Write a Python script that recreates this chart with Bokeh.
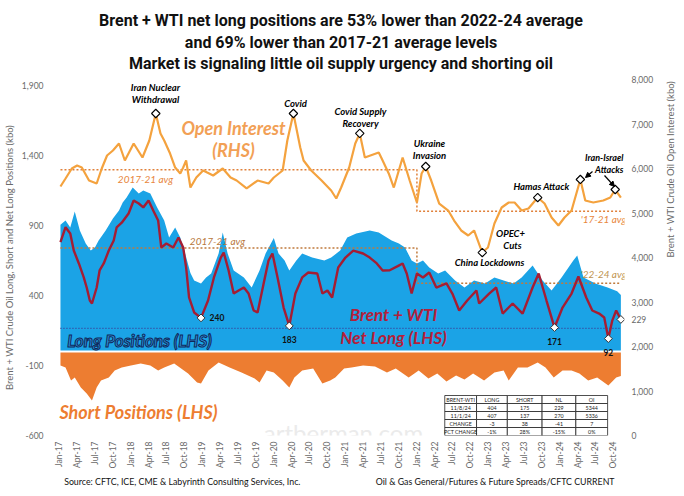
import numpy as np
import pandas as pd
from bokeh.plotting import figure
from bokeh.layouts import column
from bokeh.models import (Range1d, LinearAxis, FixedTicker, NumeralTickFormatter,
                          DatetimeTickFormatter, Label, Arrow, NormalHead)
from bokeh.core.properties import value
from bokeh.embed import file_html
from bokeh.resources import INLINE

# ---------------- data (kbo) ----------------
long_dates = ["2017-01-06","2017-02-01","2017-02-25","2017-03-20","2017-04-15","2017-05-15","2017-06-10",
              "2017-07-01","2017-07-20","2017-08-25","2017-10-01","2017-11-01","2017-11-20","2017-12-10",
              "2018-01-10","2018-02-10","2018-03-05","2018-04-10","2018-05-15","2018-06-20","2018-07-15",
              "2018-08-15","2018-09-10","2018-10-05","2018-11-01","2018-11-20","2018-12-25","2019-01-20",
              "2019-02-15","2019-03-25","2019-04-15","2019-05-10","2019-06-10","2019-08-01","2019-09-10",
              "2019-10-20","2019-11-20","2020-01-01","2020-01-25","2020-02-25","2020-03-20","2020-04-25",
              "2020-05-25","2020-07-15","2020-09-15","2020-10-20","2020-12-05","2021-01-10","2021-02-25",
              "2021-05-05","2021-06-20","2021-08-25","2021-10-01","2021-11-01","2021-12-05","2022-01-01",
              "2022-02-01","2022-03-05","2022-04-20","2022-05-25","2022-07-15","2022-09-01","2022-10-20",
              "2022-12-15","2023-02-01","2023-03-20","2023-05-10","2023-06-20","2023-08-15","2023-10-05",
              "2023-11-20","2024-01-10","2024-03-10","2024-03-30","2024-05-01","2024-07-01","2024-09-01",
              "2024-10-20","2024-11-08"]
long_kbo = [905,936,886,1000,864,771,721,
            743,793,864,950,1007,1064,1100,
            1171,1129,1150,1129,1029,936,814,
            886,814,700,560,507,486,529,
            557,700,850,700,579,529,457,
            579,700,810,700,650,579,650,
            700,671,650,671,721,814,843,
            864,850,793,771,743,650,629,
            650,600,557,579,507,457,507,
            486,529,507,486,529,614,507,
            436,529,650,686,529,486,457,
            430,404]

short_dates = ["2017-01-06","2017-02-01","2017-03-01","2017-03-20","2017-04-20","2017-05-20","2017-06-16",
               "2017-07-10","2017-08-01","2017-09-10","2017-10-10","2017-11-15","2018-01-01","2018-02-20",
               "2018-04-10","2018-05-20","2018-06-20","2018-08-10","2018-10-20","2018-12-05","2018-12-25",
               "2019-02-01","2019-03-25","2019-05-20","2019-07-20","2019-09-25","2019-10-20","2019-11-25",
               "2020-01-01","2020-02-15","2020-03-20","2020-04-15","2020-05-25","2020-07-20","2020-09-05",
               "2020-10-15","2020-11-10","2020-12-25","2021-02-01","2021-04-01","2021-06-01","2021-08-01",
               "2021-09-15","2021-11-20","2022-01-10","2022-03-01","2022-04-15","2022-06-01","2022-07-20",
               "2022-09-01","2022-10-15","2022-12-10","2023-02-01","2023-03-20","2023-04-15","2023-06-01",
               "2023-07-20","2023-09-10","2023-10-20","2023-12-01","2024-01-15","2024-03-01","2024-04-10",
               "2024-05-25","2024-07-10","2024-09-05","2024-10-15","2024-11-08"]
short_kbo = [100,114,207,186,257,300,350,
             257,207,186,136,114,100,86,
             100,136,114,86,157,221,229,
             136,79,114,150,193,221,136,
             150,207,257,186,136,121,229,
             207,186,121,114,100,107,150,
             121,186,136,193,157,214,171,
             200,157,207,150,136,207,114,
             114,79,114,186,136,136,157,
             207,186,243,186,175]

net_dates = ["2017-01-06","2017-02-01","2017-02-25","2017-03-15","2017-04-10","2017-05-05","2017-05-20",
             "2017-06-05","2017-06-16","2017-07-10","2017-07-25","2017-08-15","2017-09-10","2017-10-05",
             "2017-10-20","2017-11-15","2017-12-20","2018-01-15","2018-02-10","2018-03-05","2018-04-01",
             "2018-04-25","2018-05-20","2018-06-05","2018-07-01","2018-08-05","2018-09-01","2018-09-25",
             "2018-10-10","2018-10-25","2018-11-20","2018-12-25","2019-01-30","2019-03-01","2019-04-05",
             "2019-04-20","2019-05-15","2019-06-10","2019-07-05","2019-08-01","2019-08-25","2019-09-20",
             "2019-10-10","2019-11-10","2019-12-05","2019-12-25","2020-01-20","2020-02-20","2020-03-20",
             "2020-04-20","2020-05-25","2020-06-25","2020-08-10","2020-09-05","2020-10-01","2020-10-25",
             "2020-11-25","2021-01-01","2021-02-10","2021-04-01","2021-05-05","2021-06-10","2021-07-10",
             "2021-08-15","2021-09-25","2021-10-20","2021-11-10","2021-12-05","2022-01-01","2022-02-01",
             "2022-03-05","2022-04-10","2022-06-01","2022-07-01","2022-08-05","2022-09-15","2022-11-01",
             "2022-11-15","2023-01-05","2023-02-10","2023-03-15","2023-05-05","2023-06-25","2023-08-15",
             "2023-09-15","2023-10-25","2023-12-05","2024-01-15","2024-03-01","2024-04-05","2024-05-15",
             "2024-06-15","2024-07-20","2024-08-15","2024-09-05","2024-09-25","2024-10-15","2024-11-08"]
net_kbo = [781,888,843,721,629,529,457,
           364,343,457,579,629,721,793,
           886,920,986,1079,1057,1029,1079,
           1007,936,743,771,743,814,743,
           600,386,279,240,364,529,671,
           707,579,414,436,457,414,293,
           279,486,650,700,529,314,183,
           414,529,564,557,414,436,386,
           600,671,721,700,671,629,579,
           580,610,629,557,414,557,529,
           564,457,486,414,293,364,436,
           343,414,457,271,343,271,457,
           557,364,171,314,414,536,386,
           293,271,243,92,221,293,229]

oi_dates = ["2017-01-06","2017-02-01","2017-03-05","2017-04-01","2017-04-25","2017-06-01","2017-07-10",
            "2017-08-05","2017-09-01","2017-10-01","2017-11-01","2017-12-01","2018-01-15","2018-03-01",
            "2018-04-05","2018-05-08","2018-06-01","2018-06-20","2018-07-20","2018-08-15","2018-09-10",
            "2018-09-25","2018-10-10","2018-11-01","2018-12-01","2019-01-05","2019-02-25","2019-04-15",
            "2019-05-25","2019-06-25","2019-08-15","2019-10-10","2019-12-05","2020-01-01","2020-02-15",
            "2020-03-10","2020-04-10","2020-05-15","2020-06-01","2020-07-10","2020-09-01","2020-10-20",
            "2020-11-15","2020-12-10","2021-01-20","2021-02-20","2021-03-15","2021-04-10","2021-06-20",
            "2021-07-05","2021-08-10","2021-09-05","2021-10-20","2021-11-25","2022-01-01","2022-01-25",
            "2022-02-15","2022-03-15","2022-04-25","2022-06-10","2022-07-10","2022-08-15","2022-09-20",
            "2022-10-20","2022-12-01","2022-12-30","2023-02-01","2023-03-10","2023-04-15","2023-05-15",
            "2023-06-20","2023-07-25","2023-09-10","2023-10-15","2023-11-20","2023-12-25","2024-01-25",
            "2024-03-01","2024-04-15","2024-05-10","2024-06-20","2024-08-10","2024-09-15","2024-10-10",
            "2024-11-08"]
oi_kbo = [5596,5775,6000,6067,6022,5730,5663,
          6000,6292,6404,6562,6180,6562,6247,
          6629,7236,6787,6629,6337,6022,5888,
          6022,6180,5573,5798,5955,5843,6000,
          5798,5730,5551,5730,5663,5798,5955,
          6629,7236,6472,6180,5955,5730,5506,
          5326,5573,6022,6562,6787,6247,6360,
          6225,5888,5573,6247,5730,5236,5888,
          6045,5730,5213,5056,4831,4607,4494,
          4607,4112,4225,4764,5124,5236,5236,
          5056,5101,5348,5213,4899,4719,4899,
          5056,5753,5281,5236,5281,5348,5528,
          5344]

# averages (kbo)
avg_break = "2022-01-01"
net_avg_17_21, net_avg_22_24 = 740, 488
oi_avg_17_21, oi_avg_late = 5970, 5040
net_floor = 165

# events on open interest
event_dates = ["2018-05-08","2020-04-10","2021-03-15","2022-02-15","2022-12-01","2023-09-10","2024-04-15","2024-10-10"]
event_oi = [7236,7236,6787,6045,4112,5348,5753,5528]

# net long lows / latest
low_dates = ["2018-12-25","2020-03-20","2023-12-05","2024-09-05","2024-11-08"]
low_vals = [240,183,171,92,229]

# table
tbl_head = ["BRENT-WTI","LONG","SHORT","NL","OI"]
tbl_rows = [["11/8/24","404","175","229","5344"],
            ["11/1/24","407","137","270","5336"],
            ["CHANGE","-3","38","-41","7"],
            ["PCT CHANGE","-1%","28%","-15%","0%"]]

title_lines = ["Brent + WTI net long positions are 53% lower than 2022-24 average",
               "and 69% lower than 2017-21 average levels",
               "Market is signaling little oil supply urgency and shorting oil"]
source_left = "Source: CFTC, ICE, CME & Labyrinth Consulting Services, Inc."
source_right = "Oil & Gas General/Futures & Future Spreads/CFTC CURRENT"

# ---------------- geometry (page pixels) ----------------
W, H = 684, 496
FL, FR, FT, FB = 55, 626, 79, 435          # plot frame in page pixels
TOP_H = 74                                  # title strip height
MAIN_BOTTOM = 473
MAIN_H = MAIN_BOTTOM - TOP_H
FOOT_H = H - MAIN_BOTTOM
PX_PER_DAY = 72 / 365.25
DAY = 86400000.0

def ms(d):
    return (pd.to_datetime(pd.Series(d)).astype("int64") // 10**6).to_numpy().astype(float)

t0 = ms(["2017-01-01"])[0]
x_start = t0 - (57 - FL) / PX_PER_DAY * DAY
x_end = t0 + (FR - 57) / PX_PER_DAY * DAY
Y_LO = -600
Y_HI = -600 + (FB - FT) / 0.14
OI_LO, OI_HI = 0, 8000

def dx(X):
    return x_start + (X - FL) * (x_end - x_start) / (FR - FL)

def dy(Y):
    return Y_LO + (FB - Y) * (Y_HI - Y_LO) / (FB - FT)

def blank_fig(h):
    f = figure(width=W, height=h, x_range=Range1d(0, W), y_range=Range1d(0, h),
               output_backend="svg", toolbar_location=None, min_border=0, title=None,
               x_axis_location=None, y_axis_location=None)
    f.grid.visible = False
    f.outline_line_color = None
    return f

# ---- title strip ----
ptop = blank_fig(TOP_H)
ptop.text(x=[W / 2] * 3, y=[TOP_H - 20, TOP_H - 41.5, TOP_H - 63], text=title_lines, text_align="center",
          text_baseline="middle", text_font=value("Roboto"), text_font_style="bold",
          text_font_size="16px", text_color="#111111")

# ---- footer strip ----
pfoot = blank_fig(FOOT_H)
pfoot.text(x=[8], y=[H - 481], text=[source_left], text_align="left", text_baseline="middle",
           text_font=value("Lato"), text_font_size="8.8px", text_color="#111111")
pfoot.text(x=[672], y=[H - 481], text=[source_right], text_align="right", text_baseline="middle",
           text_font=value("Lato"), text_font_size="8.8px", text_color="#111111")

# ---- main chart ----
p = figure(width=W, height=MAIN_H, x_axis_type="datetime", output_backend="svg",
           toolbar_location=None, x_range=Range1d(x_start, x_end), y_range=Range1d(Y_LO, Y_HI),
           min_border_left=FL, min_border_right=W - FR, min_border_top=FT - TOP_H,
           min_border_bottom=MAIN_BOTTOM - FB, title=None)
p.extra_y_ranges = {"oi": Range1d(OI_LO, OI_HI)}
p.outline_line_color = None
p.xgrid.visible = False
p.ygrid.visible = False

TICK_FONT = "Lato"
GRAY = "#6a6a6a"
def style_axis(ax, standoff):
    ax.axis_line_color = None
    ax.major_tick_line_color = None
    ax.minor_tick_line_color = None
    ax.major_tick_out = 0
    ax.major_tick_in = 0
    ax.minor_tick_out = 0
    ax.minor_tick_in = 0
    ax.major_label_text_color = GRAY
    ax.major_label_text_font = TICK_FONT
    ax.major_label_text_font_size = "8.5px"
    ax.major_label_standoff = standoff
    ax.axis_label_text_font = TICK_FONT
    ax.axis_label_text_font_style = "normal"
    ax.axis_label_text_color = GRAY
    ax.axis_label_text_font_size = "9.5px"

yl = p.yaxis[0]
yl.ticker = FixedTicker(ticks=[-600, -100, 400, 900, 1400, 1900])
yl.formatter = NumeralTickFormatter(format="0,0")
style_axis(yl, 14)
yl.axis_label = "Brent + WTI Crude Oil Long, Short and Net Long Positions (kbo)"
yl.axis_label_standoff = 4

# latest net-long value shown at the right edge, on the right axis
latest_nl = low_vals[-1]
latest_on_oi = int(round(OI_LO + (latest_nl - Y_LO) / (Y_HI - Y_LO) * (OI_HI - OI_LO)))
yr = LinearAxis(y_range_name="oi",
                ticker=FixedTicker(ticks=list(range(0, 8001, 1000)) + [latest_on_oi]),
                formatter=NumeralTickFormatter(format="0,0"))
style_axis(yr, 7)
yr.major_label_overrides = {latest_on_oi: str(latest_nl)}
yr.axis_label = "Brent + WTI Crude Oil Open Interest (kbo)"
yr.axis_label_standoff = 14
if "axis_label_orientation" in LinearAxis.properties():
    yr.axis_label_orientation = np.pi / 2
p.add_layout(yr, "right")

xa = p.xaxis[0]
qt = ms(pd.date_range("2017-01-01", "2024-10-01", freq="QS"))
xa.ticker = FixedTicker(ticks=list(qt))
fmt = "%b-%y"
xa.formatter = DatetimeTickFormatter(months=fmt, days=fmt, years=fmt, hours=fmt, minutes=fmt,
                                     seconds=fmt, milliseconds=fmt, minsec=fmt, hourmin=fmt)
style_axis(xa, 6)
xa.major_label_orientation = np.pi / 2

BLUE = "#1ba3e6"
ORANGE = "#ed7d31"
RED = "#a51d33"
OI_C = "#f4a23e"

p.varea(x=ms(long_dates), y1=0, y2=np.array(long_kbo, float), fill_color=BLUE)
p.varea(x=ms(short_dates), y1=-np.array(short_kbo, float), y2=0, fill_color=ORANGE)
p.line([x_start, x_end], [0, 0], line_color="white", line_width=2)

p.line(ms([long_dates[0], long_dates[-1]]), [net_floor, net_floor], line_color="#3b3b96",
       line_dash="1 2", line_width=1.2)

tb = ms([avg_break])[0]
tS, tE = ms([net_dates[0]])[0], ms([net_dates[-1]])[0]
p.line([tS, tb, tb, tE], [net_avg_17_21, net_avg_17_21, net_avg_22_24, net_avg_22_24],
       line_color="#c07a3c", line_dash="2 2", line_width=1.5)
p.line([tS, tb, tb, tE], [oi_avg_17_21, oi_avg_17_21, oi_avg_late, oi_avg_late],
       line_color="#e0803a", line_dash="2 2", line_width=1.5, y_range_name="oi")

p.line(ms(oi_dates), oi_kbo, line_color=OI_C, line_width=2.2, y_range_name="oi")
p.line(ms(net_dates), net_kbo, line_color=RED, line_width=2.4)

p.scatter(ms(event_dates), event_oi, y_range_name="oi", marker="square", angle=np.pi / 4,
          size=6, fill_color="white", line_color="black", line_width=1.1)
p.scatter(ms(low_dates), low_vals, marker="square", angle=np.pi / 4,
          size=5.5, fill_color="white", line_color="#333333", line_width=1)

# table
cols = [445, 477, 508, 543, 577, 609]
rows = [395, 403, 411, 419, 427, 435]
L, R, T, B = [], [], [], []
for i in range(5):
    for j in range(5):
        L.append(dx(cols[j])); R.append(dx(cols[j + 1]))
        T.append(dy(rows[i])); B.append(dy(rows[i + 1]))
p.quad(left=L, right=R, top=T, bottom=B, fill_color="white", line_color="#222222", line_width=0.8)
tx, ty, tt = [], [], []
for i, row in enumerate([tbl_head] + tbl_rows):
    for j, cell in enumerate(row):
        tx.append(dx((cols[j] + cols[j + 1]) / 2)); ty.append(dy((rows[i] + rows[i + 1]) / 2)); tt.append(cell)
p.text(x=tx, y=ty, text=tt, text_align="center", text_baseline="middle",
       text_font=value("Lato"), text_font_size="5.3px", text_color="#222222")

# labels
has_outline = "text_outline_color" in Label.properties()

def lab(text, X, Y, size, color="black", style="bold italic", font="Lato", align="center"):
    l = Label(x=X - FL, y=FB - Y, x_units="screen", y_units="screen", text=text,
              text_font=font, text_font_size=f"{size}px", text_font_style=style,
              text_color=color, text_align=align, text_baseline="middle")
    p.add_layout(l)
    return l

lab("artberman.com", 341, 432, 24, "#ebebeb", "normal", "Lato")

lab("Open Interest", 231, 127, 18, "#f2a055")
lab("(RHS)", 231, 149, 18, "#f2a055")
lab("Brent + WTI", 391, 314, 17, "#b4203a")
lab("Net Long (LHS)", 391, 337, 17, "#b4203a")
lp = lab("Long Positions (LHS)", 137, 340, 17, "#2e8fd6" if has_outline else "#1a3a6e")
if has_outline:
    lp.text_outline_color = "#10285a"
lab("Short Positions (LHS)", 136, 411, 18, ORANGE)

lab("2017-21 avg", 143, 178, 10, "#e8863c", "italic")
lab("2017-21 avg", 215, 240, 10, "#b8773c", "italic")
lab("'17-21 avg", 601, 218, 10, "#e8863c", "italic")
lab("'22-24 avg", 624, 273, 10, "#c0934e", "italic", align="right")

lab("Iran Nuclear", 153, 87, 9.5)
lab("Withdrawal", 153, 99, 9.5)
lab("Covid", 293, 103, 9.5)
lab("Covid Supply", 358, 111, 9.5)
lab("Recovery", 358, 123, 9.5)
lab("Ukraine", 427, 143, 9.5)
lab("Invasion", 427, 155, 9.5)
lab("China Lockdowns", 487, 262, 9.5)
lab("OPEC+", 508, 233, 9.5)
lab("Cuts", 510, 245, 9.5)
lab("Hamas Attack", 539, 186, 9.5)
lab("Iran-Israel", 621, 157, 9, align="right")
lab("Attacks", 621, 169, 9, align="right")

for (xs0, ys0, xe0, ye0) in [(590, 171, 583, 177), (602, 175, 612, 186)]:
    p.add_layout(Arrow(end=NormalHead(size=5, fill_color="black", line_color="black"),
                       x_start=xs0 - FL, y_start=FB - ys0, x_end=xe0 - FL, y_end=FB - ye0,
                       start_units="screen", end_units="screen", line_width=1.2, line_color="black"))

offsets = [(16, 0), (0, -14), (0, -14), (0, -14)]
for d, v, (ox, oy) in zip(ms(low_dates[:-1]), low_vals[:-1], offsets):
    p.add_layout(Label(x=d, y=v, x_offset=ox, y_offset=oy, text=str(v), text_font="Lato",
                       text_font_size="8.5px", text_font_style="bold", text_color="#111111",
                       text_align="center", text_baseline="middle"))

layout = column(ptop, p, pfoot, spacing=0)
open("out.html", "w").write(file_html(layout, INLINE))
